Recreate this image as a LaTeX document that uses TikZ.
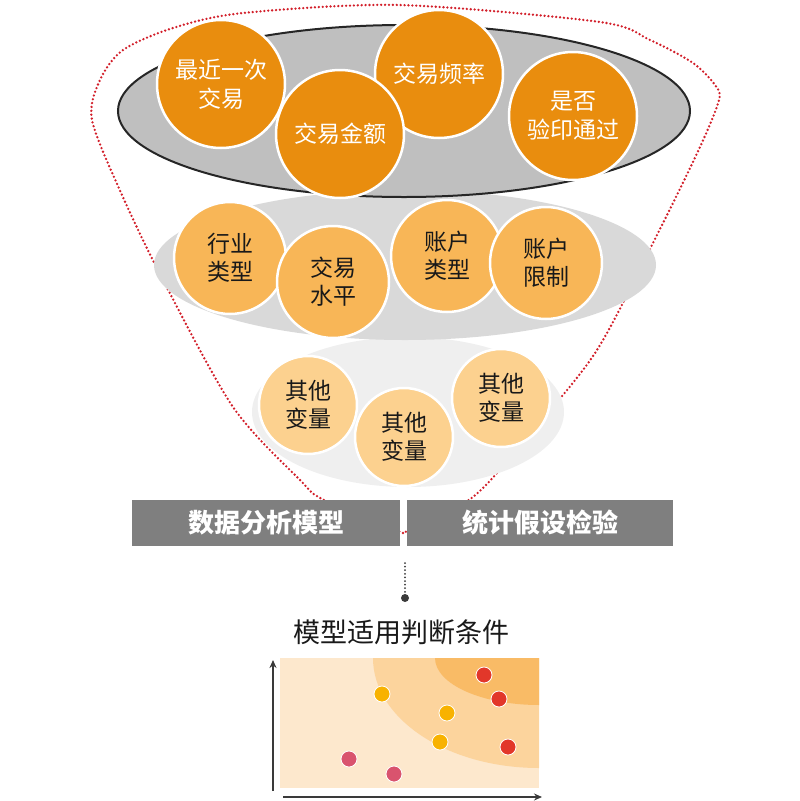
\documentclass[tikz,border=0pt]{standalone}
\usepackage{fontspec}
\setmainfont{Noto Sans CJK SC}
\usetikzlibrary{arrows.meta}
\definecolor{topor}{HTML}{E98D0E}
\definecolor{midor}{HTML}{F8B657}
\definecolor{lowor}{HTML}{FCD18F}
\definecolor{ell1}{HTML}{BFBFBF}
\definecolor{ell2}{HTML}{D9D9D9}
\definecolor{ell3}{HTML}{EFEFEF}
\definecolor{funred}{HTML}{D21F2A}
\definecolor{boxgray}{HTML}{7F7F7F}
\definecolor{zone0}{HTML}{FDE8CD}
\definecolor{zone1}{HTML}{FCD49D}
\definecolor{zone2}{HTML}{F9BB66}
\definecolor{dred}{HTML}{E2372A}
\definecolor{dyel}{HTML}{F8B200}
\definecolor{dpink}{HTML}{D9536E}
\definecolor{axisc}{HTML}{3A3A3A}
\begin{document}
\begin{tikzpicture}[x=1pt,y=-1pt,
  bubble/.style={circle, draw=white, line width=2.5pt, inner sep=0pt, align=center},
  topbub/.style={bubble, fill=topor, minimum size=128pt, text=white, font=\fontsize{23}{29}\selectfont},
  midbub/.style={bubble, fill=midor, minimum size=112pt, text=black!90, font=\fontsize{23}{28}\selectfont},
  lowbub/.style={bubble, fill=lowor, minimum size=98pt, text=black!90, font=\fontsize{23}{28}\selectfont},
  labbox/.style={fill=boxgray, text=white, minimum height=46pt, inner sep=0pt, font=\fontsize{26}{30}\selectfont\bfseries},
  funline/.style={draw=funred, line width=2.6pt, dash pattern=on 0pt off 3.9pt, line cap=round},
  dotline/.style={draw=axisc, line width=2pt, dash pattern=on 0pt off 3.6pt, line cap=round},
  pt/.style={circle, draw=white, line width=0.8pt, inner sep=0pt, minimum size=16pt},
  axis/.style={draw=axisc, line width=1.6pt, -{Stealth[length=8pt,width=7pt]}}
]
\useasboundingbox (0,0) rectangle (800,801);

% funnel outline
\draw[funline] plot[smooth, tension=0.5] coordinates {
  (403,533) (324,500) (300,480) (233,407) (163,280) (122,195) (92,120)
  (100,80) (123,50) (173,28) (243,13) (400,5) (600,22) (650,40) (693,63)
  (715,85) (719,100) (700,147) (658,233) (597,350) (533,430) (473,497) (403,533)};

% third layer
\fill[ell3] (408,412) ellipse [x radius=156, y radius=75];
\node[lowbub] (v1) at (308,405) {其他\\变量};
\node[lowbub] (v2) at (404,437) {其他\\变量};
\node[lowbub] (v3) at (501,398) {其他\\变量};

% second layer
\fill[ell2] (405,265) ellipse [x radius=251, y radius=75];
\node[midbub] (m1) at (230,258) {行业\\类型};
\node[midbub] (m2) at (333,282) {交易\\水平};
\node[midbub] (m3) at (447,256) {账户\\类型};
\node[midbub] (m4) at (546,263) {账户\\限制};

% top layer
\draw[fill=ell1, draw=black!85, line width=2pt] (404,111) ellipse [x radius=286, y radius=86];
\node[topbub] (t1) at (221,84) {最近一次\\交易};
\node[topbub] (t3) at (439,74) {交易频率};
\node[topbub] (t2) at (340,134) {交易金额};
\node[topbub] (t4) at (573,116) {是否\\验印通过};

% label boxes
\node[labbox, minimum width=268pt] (b1) at (266,523) {数据分析模型};
\node[labbox, minimum width=266pt] (b2) at (540,523) {统计假设检验};

% dotted connector
\coordinate (dtop) at (405,563);
\node[circle, fill=axisc, inner sep=0pt, minimum size=8pt] (dend) at (405,598) {};
\draw[dotline] (dtop) -- (dend);

% chart title
\node[font=\fontsize{27}{30}\selectfont, text=black!90] (title) at (401,632) {模型适用判断条件};

% chart
\begin{scope}
  \clip (280,658) rectangle (539,788);
  \fill[zone0] (280,658) rectangle (539,788);
  \fill[zone1] (539,658) ellipse [x radius=166, y radius=110];
  \fill[zone2] (539,658) ellipse [x radius=104, y radius=47];
\end{scope}
\node[pt, fill=dred] (r1) at (484,675) {};
\node[pt, fill=dred] (r2) at (499,699) {};
\node[pt, fill=dred] (r3) at (508,747) {};
\node[pt, fill=dyel] (y1) at (382,694) {};
\node[pt, fill=dyel] (y2) at (447,713) {};
\node[pt, fill=dyel] (y3) at (440,742) {};
\node[pt, fill=dpink] (p1) at (349,759) {};
\node[pt, fill=dpink] (p2) at (394,774) {};

% axes
\coordinate (yb) at (273,791);
\coordinate (yt) at (273,660);
\coordinate (xl) at (283,797);
\coordinate (xr) at (542,797);
\draw[axis] (yb) -- (yt);
\draw[axis] (xl) -- (xr);
\end{tikzpicture}
\end{document}
